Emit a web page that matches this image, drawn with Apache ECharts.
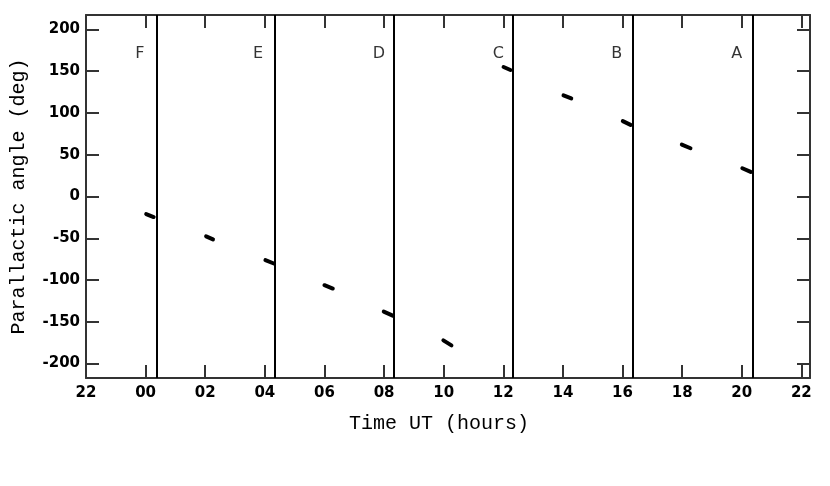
<!DOCTYPE html>
<html><head><meta charset="utf-8">
<script src="https://cdn.jsdelivr.net/npm/echarts@6/dist/echarts.min.js"></script>
<style>html,body{margin:0;padding:0;background:#fff}#c{width:830px;height:486px}</style>
</head><body><div id="c"></div>
<script>
// Tick values / labels
const xTickValues = [-2, 0, 2, 4, 6, 8, 10, 12, 14, 16, 18, 20, 22];
const xTickLabels = ['22', '00', '02', '04', '06', '08', '10', '12', '14', '16', '18', '20', '22'];
const yTickValues = [-200, -150, -100, -50, 0, 50, 100, 150, 200];

// Field boundaries (hours UT) and field names
const separatorsX = [0.36, 4.34, 8.34, 12.33, 16.34, 20.36];
const fieldNames = ['F', 'E', 'D', 'C', 'B', 'A'];
const fieldLabelX = [-0.19, 3.77, 7.83, 11.83, 15.81, 19.83];
const fieldLabelY = 171;

// Observed parallactic-angle tracks: [start, end] in (hours, deg)
const segments = [
  [[0.02, -21.0], [0.27, -24.6]],
  [[2.03, -47.8], [2.26, -51.4]],
  [[4.02, -76.2], [4.30, -80.2]],
  [[6.00, -106.2], [6.28, -110.2]],
  [[7.99, -137.8], [8.29, -142.6]],
  [[9.99, -172.2], [10.26, -178.2]],
  [[12.01, 155.0], [12.24, 151.4]],
  [[14.02, 121.0], [14.28, 117.4]],
  [[16.01, 90.2], [16.27, 85.8]],
  [[17.99, 62.2], [18.28, 57.8]],
  [[20.02, 33.8], [20.30, 29.4]]
];

const axisColor = '#333';
const chart = echarts.init(document.getElementById('c'), null, {renderer: 'canvas'});

function xAx(pos, withLabels) {
  return {
    type: 'value', position: pos, min: -2, max: 22.29,
    axisLine: {show: true, onZero: false, lineStyle: {color: axisColor, width: 2}},
    axisTick: {show: true, inside: true, length: 13, customValues: xTickValues, lineStyle: {color: axisColor, width: 2}},
    axisLabel: withLabels ? {
      show: true, customValues: xTickValues, margin: 8,
      formatter: v => xTickLabels[xTickValues.indexOf(Math.round(v))] || '',
      fontFamily: 'DejaVu Sans', fontWeight: 'bold', fontSize: 15, color: '#000'
    } : {show: false},
    splitLine: {show: false},
    name: withLabels ? 'Time UT (hours)' : '',
    nameLocation: 'middle', nameGap: 36,
    nameTextStyle: {fontFamily: 'Liberation Mono', fontSize: 20, color: '#000', padding: [0, 18, 0, 0]}
  };
}
function yAx(pos, withLabels) {
  return {
    type: 'value', position: pos, min: -217.3, max: 217.3,
    axisLine: {show: true, onZero: false, lineStyle: {color: axisColor, width: 2}},
    axisTick: {show: true, inside: true, length: 13, customValues: yTickValues, lineStyle: {color: axisColor, width: 2}},
    axisLabel: withLabels ? {
      show: true, customValues: yTickValues, margin: 6, padding: [3, 0, 0, 0],
      fontFamily: 'DejaVu Sans', fontWeight: 'bold', fontSize: 15, color: '#000'
    } : {show: false},
    splitLine: {show: false},
    name: withLabels ? 'Parallactic angle (deg)' : '',
    nameLocation: 'middle', nameGap: 57,
    nameTextStyle: {fontFamily: 'Liberation Mono', fontSize: 20, color: '#000'}
  };
}

const series = segments.map(seg => ({
  type: 'line', data: seg, showSymbol: false, symbol: 'none', silent: true,
  lineStyle: {color: '#000', width: 4, cap: 'round'}, xAxisIndex: 0, yAxisIndex: 0
}));
series.push({
  type: 'line', data: [], xAxisIndex: 0, yAxisIndex: 0,
  markLine: {
    silent: true, symbol: ['none', 'none'], label: {show: false},
    lineStyle: {color: '#000', width: 2, type: 'solid'},
    data: separatorsX.map(x => ({xAxis: x}))
  }
});
series.push({
  type: 'scatter', xAxisIndex: 0, yAxisIndex: 0, symbolSize: 1,
  itemStyle: {color: 'rgba(0,0,0,0)'},
  data: fieldNames.map((n, i) => ({value: [fieldLabelX[i], fieldLabelY], name: n})),
  label: {show: true, position: 'inside', formatter: p => p.name,
    fontFamily: 'DejaVu Sans', fontSize: 16, color: '#000'}
});

chart.setOption({
  animation: false,
  backgroundColor: '#fff',
  grid: {left: 86, right: 20, top: 15, bottom: 108, containLabel: false},
  xAxis: [xAx('bottom', true), xAx('top', false)],
  yAxis: [yAx('left', true), yAx('right', false)],
  series: series
});
</script>
</body></html>
